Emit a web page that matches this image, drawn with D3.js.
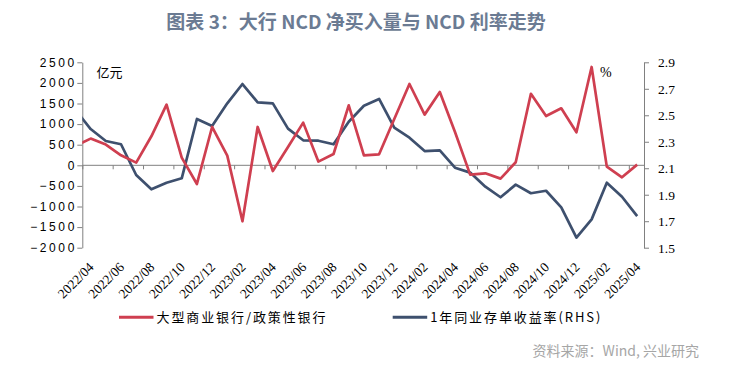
<!DOCTYPE html>
<html>
<head>
<meta charset="utf-8">
<script src="https://cdn.jsdelivr.net/npm/d3@7"></script>
<style>
  html, body { margin: 0; padding: 0; background: #fff; }
  svg { display: block; }
  .axis path, .axis line { stroke: #808080; }
</style>
</head>
<body>
<div class="chart"></div>
<script>
// monthly points, first one (2022/03) sits left of the axis and is clipped
const months = ["2022/03","2022/04","2022/05","2022/06","2022/07","2022/08","2022/09","2022/10","2022/11","2022/12",
                "2023/01","2023/02","2023/03","2023/04","2023/05","2023/06","2023/07","2023/08","2023/09","2023/10",
                "2023/11","2023/12","2024/01","2024/02","2024/03","2024/04","2024/05","2024/06","2024/07","2024/08",
                "2024/09","2024/10","2024/11","2024/12","2025/01","2025/02","2025/03","2025/04"];

// 大型商业银行/政策性银行 NCD 净买入 (亿元)
const bigBanks = [473, 648, 502, 243, 65, 704, 1473, 187, -453, 930,
                  235, -1359, 930, -138, 445, 1036, 90, 274, 1456, 243,
                  267, 1124, 1973, 1230, 1779, 808, -226, -194, -323, 73,
                  1736, 1197, 1383, 801, 2386, -32, -291, 17];

// 1年同业存单收益率 (%)
const ncdRate = [2.54, 2.396, 2.306, 2.281, 2.049, 1.941, 1.991, 2.024, 2.472, 2.419,
                 2.590, 2.736, 2.598, 2.590, 2.399, 2.311, 2.308, 2.281, 2.451, 2.572,
                 2.623, 2.406, 2.331, 2.230, 2.235, 2.104, 2.067, 1.961, 1.881, 1.976,
                 1.911, 1.930, 1.805, 1.576, 1.714, 1.991, 1.885, 1.739];

const xLabels = ["2022/04","2022/06","2022/08","2022/10","2022/12","2023/02","2023/04","2023/06","2023/08","2023/10",
                 "2023/12","2024/02","2024/04","2024/06","2024/08","2024/10","2024/12","2025/02","2025/04"];
const leftTicks = [-2000, -1500, -1000, -500, 0, 500, 1000, 1500, 2000, 2500];
const rightTicks = [1.5, 1.7, 1.9, 2.1, 2.3, 2.5, 2.7, 2.9];

const W = 737, H = 369;
const plotL = 82.3, plotR = 644, plotT = 62.3, plotB = 247.7;
const red = "#cf3f50", blue = "#3e506e";

const svg = d3.select(".chart").append("svg")
    .attr("width", W)
    .attr("height", H);

// months counted from 2022/04/01, each point sits ~mid month
const monthPos = i => i - 1 + 0.55;

const x = d3.scaleLinear().domain([0, 37]).range([plotL, plotR]);
const yL = d3.scaleLinear().domain([-2000, 2500]).range([plotB, plotT]);
const yR = d3.scaleLinear().domain([1.5, 2.9]).range([plotB, plotT]);

// title
svg.append("text")
    .attr("x", 356).attr("y", 29)
    .attr("text-anchor", "middle")
    .attr("font-family", "Noto Sans CJK SC")
    .attr("font-weight", "bold")
    .attr("font-size", "19px")
    .attr("fill", "#6b7b93")
    .text("图表 3：大行 NCD 净买入量与 NCD 利率走势");

// === Axes ===
const leftAxis = svg.append("g")
    .attr("class", "axis")
    .attr("transform", `translate(${plotL},0)`)
    .call(d3.axisLeft(yL).tickValues(leftTicks).tickFormat(d3.format("d"))
        .tickSize(5).tickSizeOuter(0).tickPadding(3));
leftAxis.selectAll("text")
    .attr("font-family", "Liberation Sans")
    .attr("font-size", "12px")
    .attr("letter-spacing", "2.6px")
    .attr("dx", "2.6px")
    .attr("fill", "#000");

const rightAxis = svg.append("g")
    .attr("class", "axis")
    .attr("transform", `translate(${plotR},0)`)
    .call(d3.axisRight(yR).tickValues(rightTicks).tickFormat(d3.format(".1f"))
        .tickSize(5).tickSizeOuter(0).tickPadding(9));
rightAxis.selectAll("text")
    .attr("font-family", "Liberation Serif")
    .attr("font-size", "13.5px")
    .attr("fill", "#000");

const xAxis = svg.append("g")
    .attr("class", "axis")
    .attr("transform", `translate(0,${yL(0)})`)
    .call(d3.axisBottom(x).tickValues(d3.range(0, 37, 2)).tickSize(4).tickSizeOuter(0).tickFormat(""));
xAxis.select(".domain").attr("d", `M${plotL},0H${plotR}`);

// rotated month labels
svg.append("g").selectAll(".x-label")
    .data(xLabels)
    .enter()
    .append("text")
    .attr("class", "x-label")
    .attr("transform", (d, i) => `translate(${x(monthPos(1 + 2 * i)) + 4},${268}) rotate(-45)`)
    .attr("text-anchor", "end")
    .attr("font-family", "Liberation Serif")
    .attr("font-size", "13.5px")
    .attr("fill", "#000")
    .text(d => d);

// unit labels
svg.append("text")
    .attr("x", 96.5).attr("y", 77)
    .attr("font-family", "Noto Sans CJK SC")
    .attr("font-size", "13px")
    .text("亿元");
svg.append("text")
    .attr("x", 600).attr("y", 76.5)
    .attr("font-family", "Liberation Serif")
    .attr("font-size", "14px")
    .text("%");

// === Lines ===
svg.append("clipPath").attr("id", "plot-clip")
    .append("rect")
    .attr("x", plotL).attr("y", 0)
    .attr("width", plotR - plotL).attr("height", H);

const plot = svg.append("g").attr("clip-path", "url(#plot-clip)");

const rateLine = d3.line()
    .x((d, i) => x(monthPos(i)))
    .y(d => yR(d));
const buyLine = d3.line()
    .x((d, i) => x(monthPos(i)))
    .y(d => yL(d));

plot.append("path")
    .datum(ncdRate)
    .attr("fill", "none")
    .attr("stroke", blue)
    .attr("stroke-width", 2.7)
    .attr("stroke-linejoin", "round")
    .attr("d", rateLine);

plot.append("path")
    .datum(bigBanks)
    .attr("fill", "none")
    .attr("stroke", red)
    .attr("stroke-width", 2.7)
    .attr("stroke-linejoin", "round")
    .attr("d", buyLine);

// === Legend ===
const legend = [
    {name: "大型商业银行/政策性银行", color: red, x: 119},
    {name: "1年同业存单收益率(RHS)", color: blue, x: 392.7}
];
const lg = svg.append("g").selectAll("g")
    .data(legend)
    .enter()
    .append("g");
lg.append("line")
    .attr("x1", d => d.x).attr("x2", d => d.x + 34.5)
    .attr("y1", 317.3).attr("y2", 317.3)
    .attr("stroke", d => d.color)
    .attr("stroke-width", 3);
lg.append("text")
    .attr("x", d => d.x + 37.5)
    .attr("y", 322)
    .attr("font-family", "Noto Sans CJK SC")
    .attr("font-size", "13px")
    .attr("letter-spacing", "1.9px")
    .attr("fill", "#000")
    .text(d => d.name);

// source
svg.append("text")
    .attr("x", 699).attr("y", 356)
    .attr("text-anchor", "end")
    .attr("font-family", "Noto Sans CJK SC")
    .attr("font-size", "14px")
    .attr("fill", "#a6a6a6")
    .text("资料来源：Wind, 兴业研究");
</script>
</body>
</html>
